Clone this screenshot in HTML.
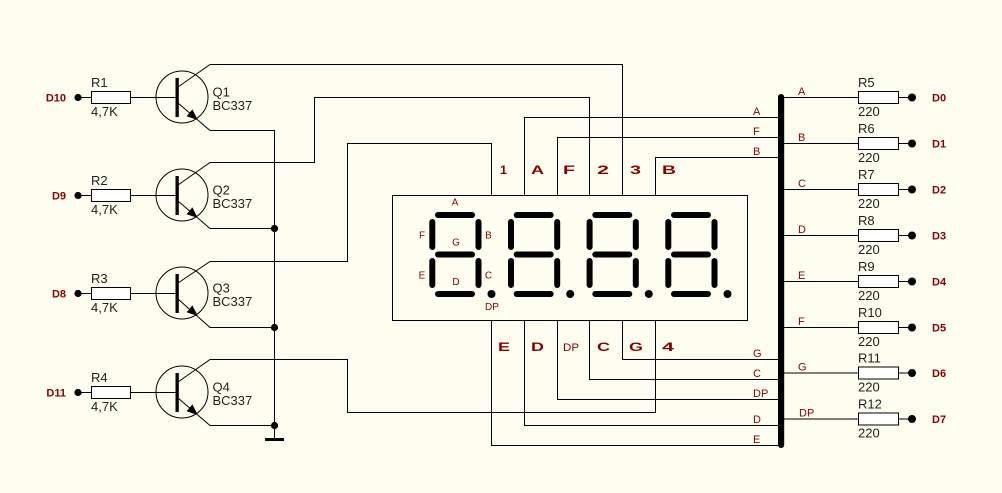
<!DOCTYPE html>
<html><head><meta charset="utf-8"><style>
html,body{margin:0;padding:0;background:#FEFEF0;}
svg{display:block;}
.w{fill:none;stroke:#000;stroke-width:1;}
.lbl{font-family:"Liberation Sans",sans-serif;font-size:13px;fill:#1e1e1e;}
.red{font-family:"Liberation Sans",sans-serif;font-size:11px;fill:#880000;}
.dl{font-family:"Liberation Sans",sans-serif;font-size:11px;font-weight:bold;fill:#880000;}
.pin{font-family:"Liberation Sans",sans-serif;font-size:12px;font-weight:bold;fill:#880000;}
.seg{stroke:#000;stroke-width:6;stroke-linecap:round;fill:none;}
.sl{font-family:"Liberation Sans",sans-serif;font-size:10px;fill:#880000;}
</style></head><body>
<svg width="1002" height="493" viewBox="0 0 1002 493" xmlns="http://www.w3.org/2000/svg">
<rect x="0" y="0" width="1002" height="493" fill="#FEFEF0"/>

<!-- Transistor stages -->
<g id="t1">
  <circle cx="182" cy="97" r="26" class="w"/>
  <rect x="175.5" y="78" width="3.3" height="39" fill="#000"/>
  <path class="w" d="M131,97.5 H176"/>
  <path class="w" d="M78,97.5 H91"/>
  <rect x="91.5" y="91.5" width="39" height="12" fill="#fff" stroke="#000"/>
  <circle cx="78" cy="97.5" r="3.6" fill="#000"/>
  <polygon points="197.8,120 186.6,116.2 192.4,109.4" fill="#000"/>
  <text class="dl" x="66" y="101.5" text-anchor="end">D10</text>
  <text class="lbl" x="91" y="87">R1</text>
  <text class="lbl" x="91" y="116">4,7K</text>
  <text class="lbl" x="212.5" y="96.5">Q1</text>
  <text class="lbl" x="212.5" y="110">BC337</text>
</g>
<g transform="translate(0,98)">
  <circle cx="182" cy="97" r="26" class="w"/>
  <rect x="175.5" y="78" width="3.3" height="39" fill="#000"/>
  <path class="w" d="M131,97.5 H176"/>
  <path class="w" d="M78,97.5 H91"/>
  <rect x="91.5" y="91.5" width="39" height="12" fill="#fff" stroke="#000"/>
  <circle cx="78" cy="97.5" r="3.6" fill="#000"/>
  <polygon points="197.8,120 186.6,116.2 192.4,109.4" fill="#000"/>
  <text class="dl" x="66" y="101.5" text-anchor="end">D9</text>
  <text class="lbl" x="91" y="87">R2</text>
  <text class="lbl" x="91" y="116">4,7K</text>
  <text class="lbl" x="212.5" y="96.5">Q2</text>
  <text class="lbl" x="212.5" y="110">BC337</text>
</g>
<g transform="translate(0,196)">
  <circle cx="182" cy="97" r="26" class="w"/>
  <rect x="175.5" y="78" width="3.3" height="39" fill="#000"/>
  <path class="w" d="M131,97.5 H176"/>
  <path class="w" d="M78,97.5 H91"/>
  <rect x="91.5" y="91.5" width="39" height="12" fill="#fff" stroke="#000"/>
  <circle cx="78" cy="97.5" r="3.6" fill="#000"/>
  <polygon points="197.8,120 186.6,116.2 192.4,109.4" fill="#000"/>
  <text class="dl" x="66" y="101.5" text-anchor="end">D8</text>
  <text class="lbl" x="91" y="87">R3</text>
  <text class="lbl" x="91" y="116">4,7K</text>
  <text class="lbl" x="212.5" y="96.5">Q3</text>
  <text class="lbl" x="212.5" y="110">BC337</text>
</g>
<g transform="translate(0,295)">
  <circle cx="182" cy="97" r="26" class="w"/>
  <rect x="175.5" y="78" width="3.3" height="39" fill="#000"/>
  <path class="w" d="M131,97.5 H176"/>
  <path class="w" d="M78,97.5 H91"/>
  <rect x="91.5" y="91.5" width="39" height="12" fill="#fff" stroke="#000"/>
  <circle cx="78" cy="97.5" r="3.6" fill="#000"/>
  <polygon points="197.8,120 186.6,116.2 192.4,109.4" fill="#000"/>
  <text class="dl" x="66" y="101.5" text-anchor="end">D11</text>
  <text class="lbl" x="91" y="87">R4</text>
  <text class="lbl" x="91" y="116">4,7K</text>
  <text class="lbl" x="212.5" y="96.5">Q4</text>
  <text class="lbl" x="212.5" y="110">BC337</text>
</g>

<!-- Collector wiring -->
<path class="w" d="M178,87 L210,64.5 H622.5 V195"/>
<path class="w" d="M178,185 L210,162.5 H314.5 V97.5 H589.5 V195"/>
<path class="w" d="M178,283 L210,261.5 H347.5 V143.5 H491.5 V195"/>
<path class="w" d="M178,382 L210,359.5 H347.5 V412.5 H655.5 V320"/>

<!-- Emitter wiring -->
<path class="w" d="M178,103 L210,130.5 H274.5 V439"/>
<path class="w" d="M178,201 L210,228.5 H274.5"/>
<path class="w" d="M178,299 L210,327.5 H274.5"/>
<path class="w" d="M178,398 L210,425.5 H274.5"/>
<circle cx="274.5" cy="228.5" r="3.6" fill="#000"/>
<circle cx="274.5" cy="327.5" r="3.6" fill="#000"/>
<circle cx="274.5" cy="425.5" r="3.6" fill="#000"/>
<rect x="265" y="438" width="19" height="3" fill="#000"/>

<!-- Display box -->
<rect x="392.5" y="195.5" width="355" height="125" class="w"/>

<!-- Segment wiring to bus -->
<path class="w" d="M524.5,195 V117.5 H778"/>
<path class="w" d="M557.5,195 V137.5 H778"/>
<path class="w" d="M655.5,195 V157.5 H778"/>
<path class="w" d="M491.5,320 V445.5 H778"/>
<path class="w" d="M524.5,320 V425.5 H778"/>
<path class="w" d="M557.5,320 V399.5 H778"/>
<path class="w" d="M589.5,320 V379.5 H778"/>
<path class="w" d="M622.5,320 V359.5 H778"/>

<!-- Pin labels -->
<text class="pin" x="500" y="174" textLength="7" lengthAdjust="spacingAndGlyphs">1</text>
<text class="pin" x="531" y="174" textLength="13" lengthAdjust="spacingAndGlyphs">A</text>
<text class="pin" x="563" y="174" textLength="12" lengthAdjust="spacingAndGlyphs">F</text>
<text class="pin" x="597" y="174" textLength="12" lengthAdjust="spacingAndGlyphs">2</text>
<text class="pin" x="630" y="174" textLength="11" lengthAdjust="spacingAndGlyphs">3</text>
<text class="pin" x="662" y="174" textLength="14" lengthAdjust="spacingAndGlyphs">B</text>

<text class="pin" x="498" y="351" textLength="12" lengthAdjust="spacingAndGlyphs">E</text>
<text class="pin" x="531" y="351" textLength="13" lengthAdjust="spacingAndGlyphs">D</text>
<text class="red" x="563" y="351" textLength="16" lengthAdjust="spacingAndGlyphs">DP</text>
<text class="pin" x="597" y="351" textLength="13" lengthAdjust="spacingAndGlyphs">C</text>
<text class="pin" x="629" y="351" textLength="14" lengthAdjust="spacingAndGlyphs">G</text>
<text class="pin" x="662" y="351" textLength="12" lengthAdjust="spacingAndGlyphs">4</text>

<!-- Digits -->
<g id="d0">
  <path class="seg" d="M438,215 H472 M438,254.5 H472 M438,294 H472 M432.3,222 V247 M478.5,222 V247 M432.3,261 V285 M478.5,261 V285"/>
  <circle cx="491.5" cy="294" r="4" fill="#000"/>
</g>
<g transform="translate(78.7,0)">
  <path class="seg" d="M438,215 H472 M438,254.5 H472 M438,294 H472 M432.3,222 V247 M478.5,222 V247 M432.3,261 V285 M478.5,261 V285"/>
  <circle cx="491.5" cy="294" r="4" fill="#000"/>
</g>
<g transform="translate(157.3,0)">
  <path class="seg" d="M438,215 H472 M438,254.5 H472 M438,294 H472 M432.3,222 V247 M478.5,222 V247 M432.3,261 V285 M478.5,261 V285"/>
  <circle cx="491.5" cy="294" r="4" fill="#000"/>
</g>
<g transform="translate(236,0)">
  <path class="seg" d="M438,215 H472 M438,254.5 H472 M438,294 H472 M432.3,222 V247 M478.5,222 V247 M432.3,261 V285 M478.5,261 V285"/>
  <circle cx="491.5" cy="294" r="4" fill="#000"/>
</g>
<text class="sl" x="455" y="205.5" text-anchor="middle">A</text>
<text class="sl" x="422" y="238.5" text-anchor="middle">F</text>
<text class="sl" x="456" y="245.5" text-anchor="middle">G</text>
<text class="sl" x="488.5" y="238.5" text-anchor="middle">B</text>
<text class="sl" x="422" y="278.5" text-anchor="middle">E</text>
<text class="sl" x="456" y="285" text-anchor="middle">D</text>
<text class="sl" x="488.5" y="278.5" text-anchor="middle">C</text>
<text class="sl" x="492" y="310" text-anchor="middle">DP</text>

<!-- Left-of-bus labels -->
<text class="red" x="753" y="115">A</text>
<text class="red" x="753" y="135">F</text>
<text class="red" x="753" y="155">B</text>
<text class="red" x="753" y="357">G</text>
<text class="red" x="753" y="377">C</text>
<text class="red" x="753" y="397">DP</text>
<text class="red" x="753" y="423">D</text>
<text class="red" x="753" y="443">E</text>

<!-- Bus -->
<rect x="778" y="94" width="6.2" height="354" rx="3" fill="#000"/>

<!-- Right resistors -->
<g id="rr">
  <path class="w" d="M784,97.5 H858 M898,97.5 H912"/>
  <rect x="858.5" y="91.5" width="40" height="12" fill="#fff" stroke="#000"/>
  <circle cx="912" cy="97.5" r="4" fill="#000"/>
</g>
<use href="#rr" transform="translate(0,46)"/>
<use href="#rr" transform="translate(0,92)"/>
<use href="#rr" transform="translate(0,138)"/>
<use href="#rr" transform="translate(0,184)"/>
<use href="#rr" transform="translate(0,230)"/>
<use href="#rr" transform="translate(0,275.5)"/>
<use href="#rr" transform="translate(0,321.5)"/>

<text class="red" x="798" y="95">A</text>
<text class="red" x="798" y="141">B</text>
<text class="red" x="798" y="187">C</text>
<text class="red" x="798" y="233">D</text>
<text class="red" x="798" y="279">E</text>
<text class="red" x="798" y="325">F</text>
<text class="red" x="798" y="370.5">G</text>
<text class="red" x="799" y="416.5">DP</text>

<text class="lbl" x="858" y="87">R5</text><text class="lbl" x="858" y="116">220</text>
<text class="lbl" x="858" y="133">R6</text><text class="lbl" x="858" y="162">220</text>
<text class="lbl" x="858" y="179">R7</text><text class="lbl" x="858" y="208">220</text>
<text class="lbl" x="858" y="225">R8</text><text class="lbl" x="858" y="254">220</text>
<text class="lbl" x="858" y="271">R9</text><text class="lbl" x="858" y="300">220</text>
<text class="lbl" x="858" y="317">R10</text><text class="lbl" x="858" y="346">220</text>
<text class="lbl" x="858" y="362.5">R11</text><text class="lbl" x="858" y="391.5">220</text>
<text class="lbl" x="858" y="408.5">R12</text><text class="lbl" x="858" y="437.5">220</text>

<text class="dl" x="932" y="101.5">D0</text>
<text class="dl" x="932" y="147.5">D1</text>
<text class="dl" x="932" y="193.5">D2</text>
<text class="dl" x="932" y="239.5">D3</text>
<text class="dl" x="932" y="285.5">D4</text>
<text class="dl" x="932" y="331.5">D5</text>
<text class="dl" x="932" y="377">D6</text>
<text class="dl" x="932" y="423">D7</text>
</svg>
</body></html>
